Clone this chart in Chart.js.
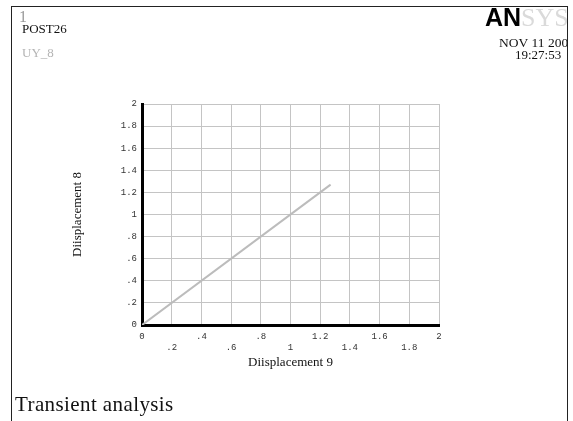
<!DOCTYPE html>
<html>
<head>
<meta charset="utf-8">
<script src="https://cdn.jsdelivr.net/npm/chart.js@4"></script>
<style>
  html, body { margin: 0; padding: 0; background: #fff; }
  #wrap { position: relative; width: 573px; height: 421px; }
</style>
</head>
<body>
<div id="wrap"><canvas id="c" width="573" height="421"></canvas></div>
<script>
// UY_8 plotted against UY_9 (POST26 time-history)
const disp9 = [0, 1.27];
const disp8 = [0, 1.27];

const xTickValues = [0, 0.2, 0.4, 0.6, 0.8, 1, 1.2, 1.4, 1.6, 1.8, 2];
const xTickLabels = ['0', '.2', '.4', '.6', '.8', '1', '1.2', '1.4', '1.6', '1.8', '2'];
const yTickValues = [0, 0.2, 0.4, 0.6, 0.8, 1, 1.2, 1.4, 1.6, 1.8, 2];
const yTickLabels = ['0', '.2', '.4', '.6', '.8', '1', '1.2', '1.4', '1.6', '1.8', '2'];

const headerTexts = {
  plotNo: '1',
  program: 'POST26',
  variable: 'UY_8',
  date: 'NOV 11 2008',
  time: '19:27:53',
  subtitle: 'Transient analysis'
};

const points = disp9.map((x, i) => ({ x: x, y: disp8[i] }));

// frame, header and footer annotations
const annotations = {
  id: 'annotations',
  beforeDraw(chart) {
    const ctx = chart.ctx;
    ctx.save();
    ctx.fillStyle = '#fff';
    ctx.fillRect(0, 0, chart.width, chart.height);
    ctx.strokeStyle = '#222';
    ctx.lineWidth = 1;
    ctx.strokeRect(11.5, 6.5, 556, 430);
    ctx.restore();
  },
  afterDraw(chart) {
    const ctx = chart.ctx;
    ctx.save();
    ctx.textBaseline = 'alphabetic';
    ctx.textAlign = 'left';

    ctx.fillStyle = '#9a9a9a';
    ctx.font = '16px "Liberation Serif"';
    ctx.fillText(headerTexts.plotNo, 19, 22);

    ctx.fillStyle = '#111';
    ctx.font = '13px "Liberation Serif"';
    ctx.fillText(headerTexts.program, 22, 33);

    ctx.fillStyle = '#b4b4b4';
    ctx.fillText(headerTexts.variable, 22, 57);

    // logo + date, clipped by the frame
    ctx.save();
    ctx.beginPath();
    ctx.rect(12, 7, 555.5, 420);
    ctx.clip();
    ctx.fillStyle = '#000';
    ctx.font = 'bold 25px "Liberation Sans"';
    ctx.fillText('AN', 485, 26);
    ctx.fillStyle = '#dadada';
    ctx.font = '26px "Liberation Serif"';
    ctx.fillText('SYS', 521, 26);
    ctx.fillStyle = '#111';
    ctx.font = '13.5px "Liberation Serif"';
    ctx.fillText(headerTexts.date, 499, 47);
    ctx.font = '13px "Liberation Serif"';
    ctx.fillText(headerTexts.time, 515, 59);
    ctx.restore();

    ctx.fillStyle = '#111';
    ctx.font = '21px "Liberation Serif"';
    ctx.letterSpacing = '0.4px';
    ctx.fillText(headerTexts.subtitle, 15, 411);
    ctx.restore();
  }
};

const tickFont = { family: '"Liberation Mono", monospace', size: 9, lineHeight: 1.2 };
const titleFont = { family: '"Liberation Serif", serif', size: 13, lineHeight: 1.2 };

new Chart(document.getElementById('c'), {
  type: 'scatter',
  data: {
    datasets: [{
      data: points,
      showLine: true,
      borderColor: '#bcbcbc',
      borderWidth: 2,
      pointRadius: 0,
      fill: false
    }]
  },
  options: {
    responsive: false,
    animation: false,
    devicePixelRatio: 1,
    layout: { padding: { left: 70, right: 134, top: 104, bottom: 51 } },
    plugins: { legend: { display: false }, tooltip: { enabled: false } },
    scales: {
      x: {
        type: 'linear',
        min: 0,
        max: 2,
        afterBuildTicks(scale) { scale.ticks = xTickValues.map(v => ({ value: v })); },
        afterFit(scale) { scale.height = 45; },
        grid: { color: '#c4c4c4', lineWidth: 1, drawTicks: false },
        border: { color: '#000', width: 3 },
        ticks: {
          padding: 6,
          maxRotation: 0,
          autoSkip: false,
          color: '#333',
          font: tickFont,
          callback: (v, i) => (i % 2 === 0 ? xTickLabels[i] : ['', xTickLabels[i]])
        },
        title: { display: true, text: 'Diisplacement 9', color: '#111', font: titleFont, padding: 0 }
      },
      y: {
        type: 'linear',
        min: 0,
        max: 2,
        afterBuildTicks(scale) { scale.ticks = yTickValues.map(v => ({ value: v })); },
        afterFit(scale) { scale.width = 72; },
        grid: { color: '#c4c4c4', lineWidth: 1, drawTicks: false },
        border: { color: '#000', width: 3 },
        ticks: {
          padding: 5,
          autoSkip: false,
          color: '#333',
          font: tickFont,
          callback: (v, i) => yTickLabels[i]
        },
        title: { display: true, text: 'Diisplacement 8', color: '#111', font: titleFont, padding: 0 }
      }
    }
  },
  plugins: [annotations]
});
</script>
</body>
</html>
